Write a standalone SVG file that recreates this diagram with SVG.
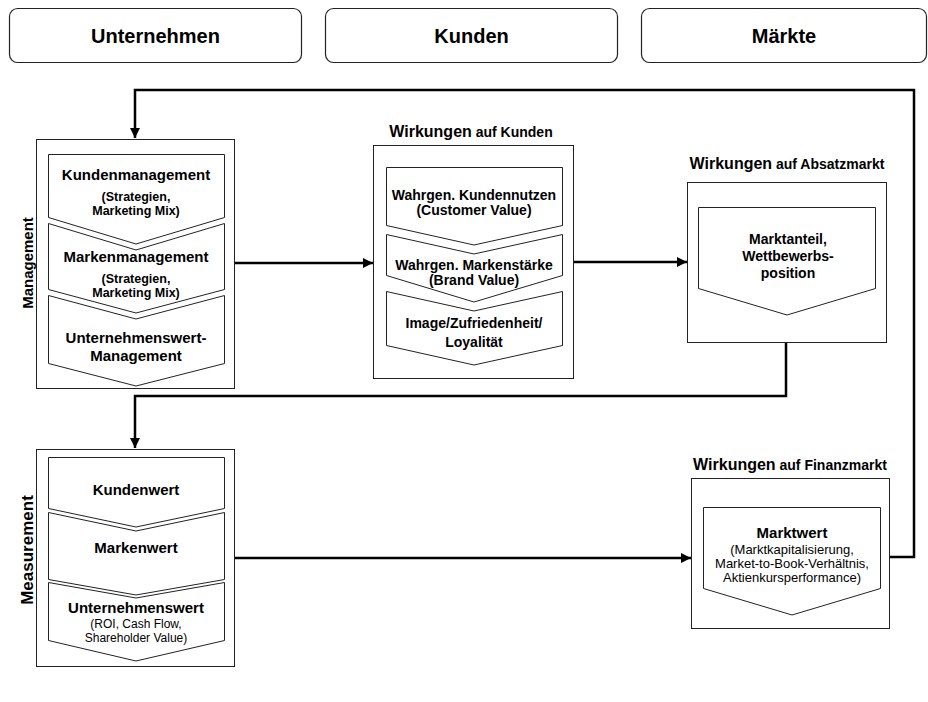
<svg xmlns="http://www.w3.org/2000/svg" width="928" height="702" viewBox="0 0 928 702">
<style>
.hdr{fill:#fff;stroke:#222;stroke-width:1.2}
.box{fill:#fff;stroke:#222;stroke-width:1}
.chev{fill:#fff;stroke:#222;stroke-width:1}
.conn{fill:none;stroke:#000;stroke-width:2.5}
text{font-family:"Liberation Sans",Arial,sans-serif;fill:#000;text-anchor:middle}
.h{font-size:20px;font-weight:bold}
.b15{font-size:15px;font-weight:bold}
.b14{font-size:14px;font-weight:bold}
.b13{font-size:12.5px;font-weight:bold}
.n12{font-size:12px}
.n13{font-size:13px}
.t16{font-size:16px;font-weight:bold}
.t14{font-size:14px;font-weight:bold}
.side{font-size:15px;font-weight:bold}
</style>
<defs>
<marker id="ah" viewBox="0 0 10 10" refX="10" refY="5" markerWidth="4" markerHeight="4" orient="auto" markerUnits="strokeWidth">
<path d="M0,0 L10,5 L0,10 z" fill="#000"/>
</marker>
</defs>
<rect width="928" height="702" fill="#fff"/>

<g id="hdr-unternehmen"><rect class="hdr" x="9.5" y="8.5" width="292" height="54" rx="8"/><text class="h" x="155.5" y="43">Unternehmen</text></g>
<g id="hdr-kunden"><rect class="hdr" x="325.5" y="8.5" width="292" height="54" rx="8"/><text class="h" x="471.5" y="43">Kunden</text></g>
<g id="hdr-maerkte"><rect class="hdr" x="641.5" y="8.5" width="285" height="54" rx="8"/><text class="h" x="784" y="43">Märkte</text></g>

<g id="connectors">
<polyline class="conn" points="890,557 914,557 914,90 135,90 135,138" marker-end="url(#ah)"/>
<line class="conn" x1="235" y1="263" x2="373" y2="263" marker-end="url(#ah)"/>
<line class="conn" x1="573" y1="262" x2="687" y2="262" marker-end="url(#ah)"/>
<polyline class="conn" points="786,342 786,396 135,396 135,448" marker-end="url(#ah)"/>
<line class="conn" x1="235" y1="558" x2="691" y2="558" marker-end="url(#ah)"/>
</g>

<g id="management">
<text class="side" transform="translate(33,263) rotate(-90)">Management</text>
<rect class="box" x="36.5" y="139.5" width="198" height="249"/>
<polygon class="chev" points="48.5,154.5 224.5,154.5 224.5,217.5 136,244 48.5,217.5"/>
<polygon class="chev" points="48.5,223.5 136,250 224.5,223.5 224.5,289.5 136,313 48.5,289.5"/>
<polygon class="chev" points="48.5,295.5 136,319 224.5,295.5 224.5,363.5 136,386 48.5,363.5"/>
<text class="b15" x="136" y="180">Kundenmanagement</text>
<text class="b13" x="136" y="201">(Strategien,</text>
<text class="b13" x="136" y="215">Marketing Mix)</text>
<text class="b15" x="136" y="262">Markenmanagement</text>
<text class="b13" x="136" y="283">(Strategien,</text>
<text class="b13" x="136" y="297">Marketing Mix)</text>
<text class="b15" x="136" y="343">Unternehmenswert-</text>
<text class="b15" x="136" y="361">Management</text>
</g>

<g id="wirkungen-kunden">
<text x="471" y="137"><tspan class="t16">Wirkungen</tspan><tspan class="t14"> auf Kunden</tspan></text>
<rect class="box" x="373.5" y="145.5" width="200" height="233"/>
<polygon class="chev" points="386.5,167.5 562.5,167.5 562.5,225.5 474,245 386.5,225.5"/>
<polygon class="chev" points="386.5,234.5 474,254 562.5,234.5 562.5,275.5 474,302 386.5,275.5"/>
<polygon class="chev" points="386.5,291.5 474,311 562.5,291.5 562.5,345.5 474,365 386.5,345.5"/>
<text class="b14" x="474" y="200">Wahrgen. Kundennutzen</text>
<text class="b14" x="474" y="215">(Customer Value)</text>
<text class="b14" x="474" y="270">Wahrgen. Markenstärke</text>
<text class="b14" x="474" y="285">(Brand Value)</text>
<text class="b14" x="474" y="328">Image/Zufriedenheit/</text>
<text class="b14" x="474" y="347">Loyalität</text>
</g>

<g id="wirkungen-absatzmarkt">
<text x="787" y="169"><tspan class="t16">Wirkungen</tspan><tspan class="t14"> auf Absatzmarkt</tspan></text>
<rect class="box" x="687.5" y="182.5" width="199" height="160"/>
<polygon class="chev" points="698.5,207.5 875.5,207.5 875.5,288.5 787,315 698.5,288.5"/>
<text class="b14" x="788" y="244">Marktanteil,</text>
<text class="b14" x="788" y="261">Wettbewerbs-</text>
<text class="b14" x="788" y="278">position</text>
</g>

<g id="measurement">
<text class="side" transform="translate(33,550) rotate(-90)" style="font-size:17px">Measurement</text>
<rect class="box" x="36.5" y="449.5" width="198" height="217"/>
<polygon class="chev" points="48.5,457.5 224.5,457.5 224.5,508.5 136,527 48.5,508.5"/>
<polygon class="chev" points="48.5,512.5 136,531 224.5,512.5 224.5,579.5 136,595 48.5,579.5"/>
<polygon class="chev" points="48.5,582.5 136,598 224.5,582.5 224.5,640.5 136,661 48.5,640.5"/>
<text class="b15" x="136" y="495">Kundenwert</text>
<text class="b15" x="136" y="553">Markenwert</text>
<text class="b15" x="136" y="613">Unternehmenswert</text>
<text class="n12" x="136" y="628">(ROI, Cash Flow,</text>
<text class="n12" x="136" y="642">Shareholder Value)</text>
</g>

<g id="wirkungen-finanzmarkt">
<text x="790" y="470"><tspan class="t16">Wirkungen</tspan><tspan class="t14"> auf Finanzmarkt</tspan></text>
<rect class="box" x="691.5" y="478.5" width="198" height="150"/>
<polygon class="chev" points="703.5,507.5 880.5,507.5 880.5,588.5 792,615 703.5,588.5"/>
<text class="b15" x="792" y="538">Marktwert</text>
<text class="n13" x="792" y="554">(Marktkapitalisierung,</text>
<text class="n13" x="792" y="568">Market-to-Book-Verhältnis,</text>
<text class="n13" x="792" y="582">Aktienkursperformance)</text>
</g>
</svg>
